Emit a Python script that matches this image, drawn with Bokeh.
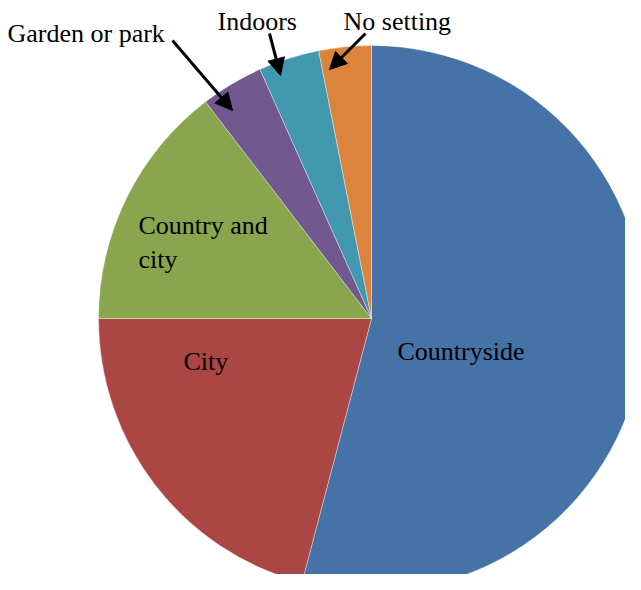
import numpy as np
from bokeh.plotting import figure
from bokeh.models import Range1d, ColumnDataSource, Arrow, NormalHead
from bokeh.core.properties import value
from bokeh.embed import file_html
from bokeh.resources import INLINE

# Data (percent share, clockwise from 12 o'clock)
categories = ["Countryside", "City", "Country and city", "Garden or park", "Indoors", "No setting"]
shares = [54.1, 20.9, 14.6, 3.7, 3.6, 3.1]
colors = ["#4572A7", "#AA4643", "#89A54E", "#71588F", "#4198AF", "#DB843D"]

W, H = 625, 574
p = figure(width=W, height=H, output_backend="svg", toolbar_location=None,
           x_range=Range1d(0, W), y_range=Range1d(590 - H, 590),
           min_border=0, outline_line_color=None)
p.axis.visible = False
p.grid.visible = False
p.background_fill_color = "white"
p.border_fill_color = "white"

cx, cy, r = 371, 272, 273
frac = np.array(shares) / np.sum(shares)
cum = np.concatenate([[0], np.cumsum(frac)])
start = np.pi / 2 - cum[1:] * 2 * np.pi
end = np.pi / 2 - cum[:-1] * 2 * np.pi
src = ColumnDataSource(dict(start=start, end=end, color=colors, cat=categories))
p.wedge(x=cx, y=cy, radius=r, start_angle="start", end_angle="end",
        fill_color="color", line_color="white", line_width=0.6, line_alpha=0.6, source=src)

# Labels
label_text = ["Countryside", "City", "Country and\ncity", "Garden or park", "Indoors", "No setting"]
label_x = [397, 183, 138, 7, 217, 343]
label_y = [239, 229, 348, 557, 569, 569]
lsrc = ColumnDataSource(dict(x=label_x, y=label_y, t=label_text))
p.text(x="x", y="y", text="t", source=lsrc, text_font=value("Liberation Serif"),
       text_font_size="26px", text_color="black", text_baseline="alphabetic",
       text_align="left", text_line_height=1.2)

# Leader arrows for small slices
arrows = [((172, 550), (232, 480)), ((269, 557), (280, 515)), ((365, 557), (329, 521))]
for (x0, y0), (x1, y1) in arrows:
    p.add_layout(Arrow(x_start=x0, y_start=y0, x_end=x1, y_end=y1,
                       line_width=3, line_color="black",
                       end=NormalHead(size=17, fill_color="black", line_color="black")))

open("out.html", "w").write(file_html(p, INLINE))
